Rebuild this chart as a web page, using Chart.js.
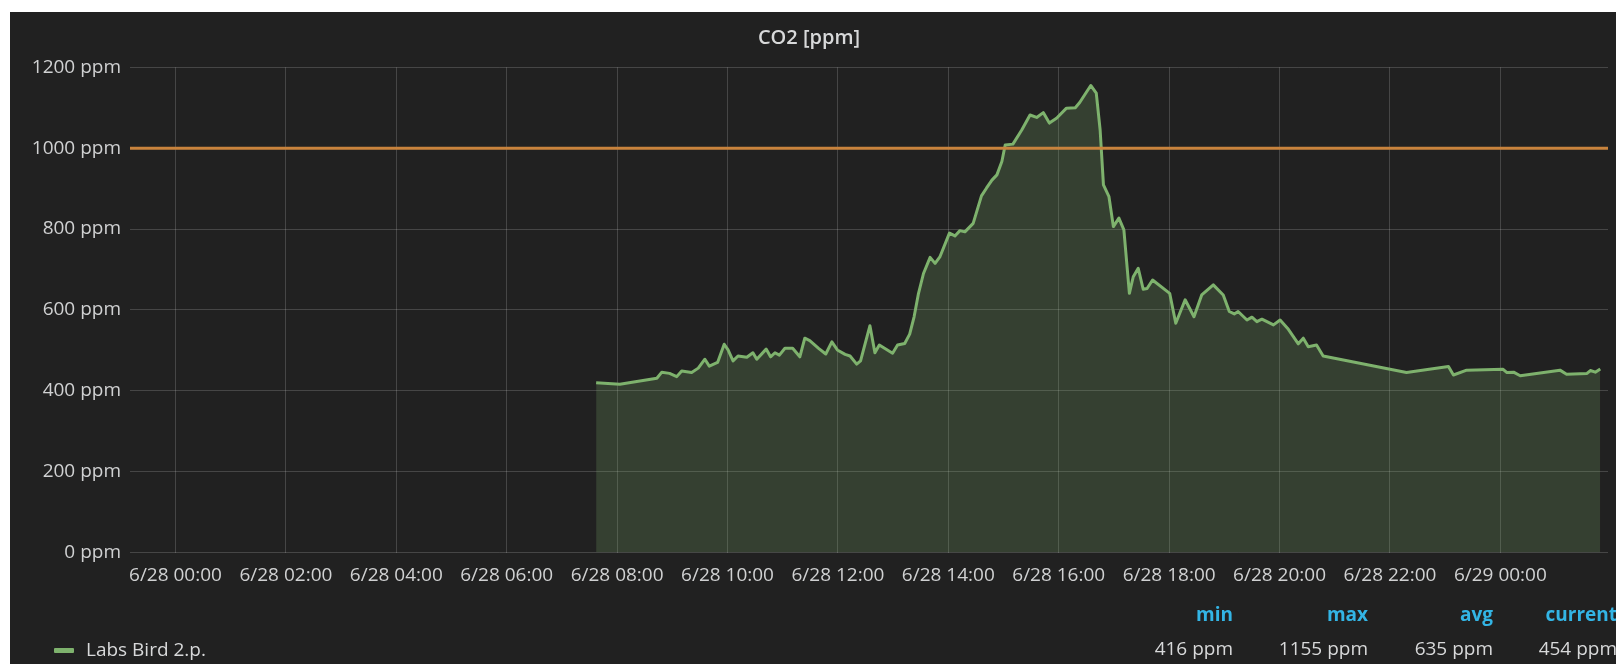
<!DOCTYPE html>
<html>
<head>
<meta charset="utf-8">
<script src="https://cdn.jsdelivr.net/npm/chart.js@4.4.1/dist/chart.umd.min.js"></script>
<style>
  html, body { margin: 0; padding: 0; background: #ffffff; width: 1616px; height: 664px; overflow: hidden; }
  #panel { position: absolute; left: 10px; top: 12px; width: 1606px; height: 652px; background: #212121; }
  canvas { position: absolute; left: 0; top: 0; }
  .lg { position: absolute; font-family: 'Open Sans', sans-serif; font-size: 19px; line-height: 20px; color: #d8d9da; white-space: nowrap; }
  .hd { color: #33b5e5; font-weight: bold; }
  .r { text-align: right; width: 140px; }
  #icon { position: absolute; left: 44px; top: 636px; width: 20px; height: 5px; background: #7eb26d; border-radius: 1px; }
</style>
</head>
<body>
<div id="panel">
  <canvas id="c" width="1606" height="652"></canvas>
  <div id="icon"></div>
  <div class="lg" style="left:76px; top:627px;">Labs Bird 2.p.</div>
  <div class="lg hd r" style="left:1083px; top:592px;">min</div>
  <div class="lg hd r" style="left:1218px; top:592px;">max</div>
  <div class="lg hd r" style="left:1343px; top:592px;">avg</div>
  <div class="lg hd r" style="left:1467px; top:592px;">current</div>
  <div class="lg r" style="left:1083px; top:626px;">416 ppm</div>
  <div class="lg r" style="left:1218px; top:626px;">1155 ppm</div>
  <div class="lg r" style="left:1343px; top:626px;">635 ppm</div>
  <div class="lg r" style="left:1467px; top:626px;">454 ppm</div>
</div>
<script>
// Hours since 6/28 00:00
const times = [7.62, 8.05, 8.72, 8.81, 8.95, 9.08, 9.17, 9.35, 9.47, 9.59, 9.67, 9.82, 9.94, 10.01, 10.10, 10.19, 10.35, 10.46, 10.53, 10.70, 10.78, 10.86, 10.94, 11.04, 11.18, 11.31, 11.40, 11.49, 11.65, 11.78, 11.89, 11.99, 12.13, 12.22, 12.34, 12.41, 12.58, 12.67, 12.75, 12.99, 13.08, 13.21, 13.30, 13.38, 13.46, 13.55, 13.67, 13.76, 13.85, 14.02, 14.12, 14.21, 14.30, 14.45, 14.60, 14.69, 14.79, 14.88, 14.97, 15.03, 15.17, 15.33, 15.48, 15.60, 15.72, 15.83, 15.96, 16.14, 16.30, 16.38, 16.58, 16.68, 16.75, 16.81, 16.91, 16.99, 17.09, 17.18, 17.28, 17.35, 17.44, 17.53, 17.60, 17.70, 18.01, 18.12, 18.29, 18.45, 18.59, 18.80, 18.98, 19.09, 19.18, 19.25, 19.41, 19.50, 19.59, 19.68, 19.89, 20.01, 20.16, 20.34, 20.43, 20.52, 20.67, 20.79, 22.30, 23.06, 23.15, 23.39, 24.05, 24.12, 24.24, 24.36, 25.08, 25.20, 25.57, 25.63, 25.72, 25.81];
const co2 = [420, 416, 431, 446, 443, 435, 449, 445, 456, 478, 461, 470, 515, 501, 474, 486, 483, 494, 478, 503, 484, 494, 488, 505, 505, 484, 530, 524, 505, 491, 521, 501, 490, 486, 466, 474, 561, 494, 513, 493, 513, 517, 540, 583, 641, 690, 730, 715, 732, 790, 783, 796, 793, 814, 882, 901, 921, 934, 967, 1008, 1010, 1045, 1082, 1076, 1088, 1062, 1074, 1099, 1100, 1113, 1155, 1136, 1045, 909, 880, 806, 827, 798, 641, 682, 703, 651, 653, 674, 641, 567, 625, 583, 637, 662, 637, 596, 590, 596, 575, 582, 571, 577, 563, 575, 552, 516, 530, 509, 513, 486, 445, 460, 439, 451, 453, 445, 446, 437, 451, 441, 443, 450, 446, 454];
const threshold = 1000;
const xMin = -0.824, xMax = 25.95;
const tickHours = [0, 2, 4, 6, 8, 10, 12, 14, 16, 18, 20, 22, 24];
const tickLabels = ['6/28 00:00', '6/28 02:00', '6/28 04:00', '6/28 06:00', '6/28 08:00', '6/28 10:00', '6/28 12:00', '6/28 14:00', '6/28 16:00', '6/28 18:00', '6/28 20:00', '6/28 22:00', '6/29 00:00'];
const yTicks = [0, 200, 400, 600, 800, 1000, 1200];

const series = times.map((t, i) => ({ x: t, y: co2[i] }));
const font = { family: "'Open Sans', sans-serif", size: 19 };
const gridColor = 'rgba(255,255,255,0.17)';

new Chart(document.getElementById('c'), {
  type: 'line',
  data: {
    datasets: [
      {
        label: 'threshold',
        data: [{ x: xMin, y: threshold }, { x: xMax, y: threshold }],
        borderColor: '#c8833d',
        borderWidth: 3,
        pointRadius: 0,
        fill: false
      },
      {
        label: 'Labs Bird 2.p.',
        data: series,
        borderColor: '#7eb26d',
        backgroundColor: 'rgba(126,178,109,0.22)',
        borderWidth: 3,
        borderJoinStyle: 'round',
        pointRadius: 0,
        tension: 0,
        fill: 'origin'
      }
    ]
  },
  options: {
    responsive: false,
    animation: false,
    layout: { padding: { left: 0, right: 8, top: 0, bottom: 0 } },
    plugins: {
      legend: { display: false },
      tooltip: { enabled: false },
      title: {
        display: true,
        text: 'CO2 [ppm]',
        color: '#d8d9da',
        font: { family: "'Open Sans', sans-serif", size: 20, weight: '600', lineHeight: 1.2 },
        padding: { top: 14, bottom: 17.3 }
      }
    },
    scales: {
      x: {
        type: 'linear',
        min: xMin,
        max: xMax,
        afterBuildTicks: (s) => { s.ticks = tickHours.map(v => ({ value: v })); },
        afterFit: (s) => { s.height = 111.5; },
        ticks: {
          autoSkip: false,
          maxRotation: 0,
          padding: 12,
          color: '#d0d1d2',
          font: font,
          callback: (v, i) => tickLabels[i]
        },
        grid: { color: gridColor, drawTicks: false },
        border: { display: false }
      },
      y: {
        min: 0,
        max: 1200,
        afterBuildTicks: (s) => { s.ticks = yTicks.map(v => ({ value: v })); },
        afterFit: (s) => { s.width = 120; },
        ticks: {
          padding: 9,
          color: '#d0d1d2',
          font: font,
          callback: (v) => v + ' ppm'
        },
        grid: { color: gridColor, drawTicks: false },
        border: { display: false }
      }
    }
  }
});
</script>
</body>
</html>
